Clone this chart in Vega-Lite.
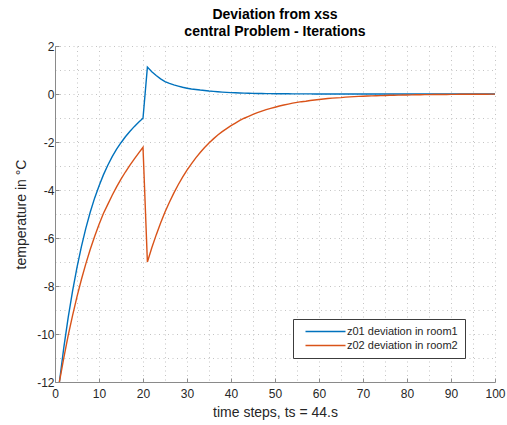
{
  "$schema": "https://vega.github.io/schema/vega-lite/v6.json",
  "width": 440,
  "height": 336,
  "autosize": "none",
  "padding": {"left": 55, "top": 46, "right": 12, "bottom": 43},
  "background": "white",
  "config": {
    "view": {"stroke": null},
    "font": "Liberation Sans"
  },
  "title": {
    "text": ["Deviation from xss", "central Problem - Iterations"],
    "font": "Liberation Sans",
    "fontSize": 14,
    "fontWeight": "bold",
    "color": "#000000",
    "anchor": "middle",
    "lineHeight": 17,
    "offset": 1
  },
  "data": {
    "values": [
      {"t": 1, "z01": -12, "z02": -12},
      {"t": 2, "z01": -10.57, "z02": -10.99},
      {"t": 3, "z01": -9.31, "z02": -10.06},
      {"t": 4, "z01": -8.2, "z02": -9.22},
      {"t": 5, "z01": -7.22, "z02": -8.44},
      {"t": 6, "z01": -6.36, "z02": -7.73},
      {"t": 7, "z01": -5.6, "z02": -7.08},
      {"t": 8, "z01": -4.93, "z02": -6.48},
      {"t": 9, "z01": -4.34, "z02": -5.94},
      {"t": 10, "z01": -3.83, "z02": -5.44},
      {"t": 11, "z01": -3.37, "z02": -4.98},
      {"t": 12, "z01": -2.97, "z02": -4.6},
      {"t": 13, "z01": -2.61, "z02": -4.22},
      {"t": 14, "z01": -2.3, "z02": -3.87},
      {"t": 15, "z01": -2.03, "z02": -3.55},
      {"t": 16, "z01": -1.78, "z02": -3.25},
      {"t": 17, "z01": -1.56, "z02": -2.97},
      {"t": 18, "z01": -1.36, "z02": -2.71},
      {"t": 19, "z01": -1.18, "z02": -2.46},
      {"t": 20, "z01": -1.01, "z02": -2.22},
      {"t": 21, "z01": 1.12, "z02": -7.0},
      {"t": 22, "z01": 0.93, "z02": -6.41},
      {"t": 23, "z01": 0.77, "z02": -5.87},
      {"t": 24, "z01": 0.63, "z02": -5.38},
      {"t": 25, "z01": 0.52, "z02": -4.92},
      {"t": 26, "z01": 0.44, "z02": -4.51},
      {"t": 27, "z01": 0.38, "z02": -4.13},
      {"t": 28, "z01": 0.33, "z02": -3.78},
      {"t": 29, "z01": 0.28, "z02": -3.46},
      {"t": 30, "z01": 0.24, "z02": -3.17},
      {"t": 31, "z01": 0.21, "z02": -2.91},
      {"t": 32, "z01": 0.19, "z02": -2.66},
      {"t": 33, "z01": 0.165, "z02": -2.44},
      {"t": 34, "z01": 0.145, "z02": -2.23},
      {"t": 35, "z01": 0.125, "z02": -2.04},
      {"t": 36, "z01": 0.11, "z02": -1.87},
      {"t": 37, "z01": 0.095, "z02": -1.71},
      {"t": 38, "z01": 0.08, "z02": -1.57},
      {"t": 39, "z01": 0.068, "z02": -1.44},
      {"t": 40, "z01": 0.058, "z02": -1.32},
      {"t": 41, "z01": 0.05, "z02": -1.21},
      {"t": 42, "z01": 0.043, "z02": -1.1},
      {"t": 43, "z01": 0.037, "z02": -1.01},
      {"t": 44, "z01": 0.032, "z02": -0.93},
      {"t": 45, "z01": 0.027, "z02": -0.85},
      {"t": 46, "z01": 0.023, "z02": -0.78},
      {"t": 47, "z01": 0.02, "z02": -0.71},
      {"t": 48, "z01": 0.017, "z02": -0.65},
      {"t": 49, "z01": 0.014, "z02": -0.6},
      {"t": 50, "z01": 0.012, "z02": -0.55},
      {"t": 51, "z01": 0.01, "z02": -0.5},
      {"t": 52, "z01": 0.009, "z02": -0.46},
      {"t": 53, "z01": 0.008, "z02": -0.42},
      {"t": 54, "z01": 0.007, "z02": -0.38},
      {"t": 55, "z01": 0.006, "z02": -0.35},
      {"t": 56, "z01": 0.005, "z02": -0.32},
      {"t": 57, "z01": 0.004, "z02": -0.3},
      {"t": 58, "z01": 0.004, "z02": -0.27},
      {"t": 59, "z01": 0.003, "z02": -0.25},
      {"t": 60, "z01": 0.003, "z02": -0.23},
      {"t": 61, "z01": 0.002, "z02": -0.21},
      {"t": 62, "z01": 0.002, "z02": -0.19},
      {"t": 63, "z01": 0.002, "z02": -0.17},
      {"t": 64, "z01": 0.002, "z02": -0.16},
      {"t": 65, "z01": 0.002, "z02": -0.15},
      {"t": 66, "z01": 0.001, "z02": -0.13},
      {"t": 67, "z01": 0.001, "z02": -0.12},
      {"t": 68, "z01": 0.001, "z02": -0.11},
      {"t": 69, "z01": 0.001, "z02": -0.1},
      {"t": 70, "z01": 0.001, "z02": -0.094},
      {"t": 71, "z01": 0.001, "z02": -0.086},
      {"t": 72, "z01": 0.001, "z02": -0.079},
      {"t": 73, "z01": 0.001, "z02": -0.072},
      {"t": 74, "z01": 0.001, "z02": -0.066},
      {"t": 75, "z01": 0.001, "z02": -0.06},
      {"t": 76, "z01": 0, "z02": -0.055},
      {"t": 77, "z01": 0, "z02": -0.051},
      {"t": 78, "z01": 0, "z02": -0.046},
      {"t": 79, "z01": 0, "z02": -0.042},
      {"t": 80, "z01": 0, "z02": -0.039},
      {"t": 81, "z01": 0, "z02": -0.036},
      {"t": 82, "z01": 0, "z02": -0.033},
      {"t": 83, "z01": 0, "z02": -0.03},
      {"t": 84, "z01": 0, "z02": -0.027},
      {"t": 85, "z01": 0, "z02": -0.025},
      {"t": 86, "z01": 0, "z02": -0.023},
      {"t": 87, "z01": 0, "z02": -0.021},
      {"t": 88, "z01": 0, "z02": -0.019},
      {"t": 89, "z01": 0, "z02": -0.018},
      {"t": 90, "z01": 0, "z02": -0.016},
      {"t": 91, "z01": 0, "z02": -0.015},
      {"t": 92, "z01": 0, "z02": -0.013},
      {"t": 93, "z01": 0, "z02": -0.012},
      {"t": 94, "z01": 0, "z02": -0.011},
      {"t": 95, "z01": 0, "z02": -0.01},
      {"t": 96, "z01": 0, "z02": -0.009},
      {"t": 97, "z01": 0, "z02": -0.009},
      {"t": 98, "z01": 0, "z02": -0.008},
      {"t": 99, "z01": 0, "z02": -0.007},
      {"t": 100, "z01": 0, "z02": -0.007}
    ]
  },
  "transform": [
    {"fold": ["z01", "z02"], "as": ["series", "value"]}
  ],
  "mark": {"type": "line", "strokeWidth": 1.4, "clip": true},
  "encoding": {
    "x": {
      "field": "t",
      "type": "quantitative",
      "scale": {"domain": [0, 100], "nice": false, "zero": false},
      "axis": {
        "title": "time steps, ts = 44.s",
        "titleFont": "Liberation Sans",
        "titleFontSize": 14,
        "titleFontWeight": "normal",
        "titleColor": "#262626",
        "titlePadding": 6,
        "values": [0, 5, 10, 15, 20, 25, 30, 35, 40, 45, 50, 55, 60, 65, 70, 75, 80, 85, 90, 95, 100],
        "labelExpr": "datum.value % 10 === 0 ? '' + datum.value : ''",
        "labelFont": "Liberation Sans",
        "labelFontSize": 12,
        "labelColor": "#262626",
        "labelPadding": 10,
        "labelFlush": false,
        "labelOverlap": false,
        "domainColor": "#8a8a8a",
        "domainWidth": 1,
        "tickSize": -4,
        "tickColor": "#8a8a8a",
        "tickOpacity": {"condition": {"test": "datum.value % 10 !== 0", "value": 0}, "value": 1},
        "grid": true,
        "gridColor": "#c4c4c4",
        "gridDash": [1, 3.5],
        "gridWidth": 1
      }
    },
    "y": {
      "field": "value",
      "type": "quantitative",
      "scale": {"domain": [-12, 2], "nice": false, "zero": false},
      "axis": {
        "title": "temperature in °C",
        "titleFont": "Liberation Sans",
        "titleFontSize": 14,
        "titleFontWeight": "normal",
        "titleColor": "#262626",
        "titlePadding": 8,
        "values": [-12, -11, -10, -9, -8, -7, -6, -5, -4, -3, -2, -1, 0, 1, 2],
        "labelExpr": "datum.value % 2 === 0 ? '' + datum.value : ''",
        "labelFont": "Liberation Sans",
        "labelFontSize": 12,
        "labelColor": "#262626",
        "labelPadding": 5,
        "labelFlush": false,
        "labelOverlap": false,
        "domainColor": "#8a8a8a",
        "domainWidth": 1,
        "tickSize": -4,
        "tickColor": "#8a8a8a",
        "tickOpacity": {"condition": {"test": "datum.value % 2 !== 0", "value": 0}, "value": 1},
        "grid": true,
        "gridColor": "#c4c4c4",
        "gridDash": [1, 3.5],
        "gridWidth": 1
      }
    },
    "color": {
      "field": "series",
      "type": "nominal",
      "scale": {"domain": ["z01", "z02"], "range": ["#0072BD", "#D95319"]},
      "legend": {
        "title": null,
        "orient": "none",
        "legendX": 238,
        "legendY": 273,
        "labelExpr": "datum.label === 'z01' ? 'z01 deviation in room1' : 'z02 deviation in room2'",
        "labelFont": "Liberation Sans",
        "labelFontSize": 11,
        "labelColor": "#262626",
        "symbolType": "M0,0H40",
        "symbolSize": 4,
        "symbolStrokeWidth": 1.4,
        "labelOffset": 36,
        "padding": 7,
        "rowPadding": 2,
        "fillColor": "white",
        "strokeColor": "#3c3c3c"
      }
    }
  }
}
